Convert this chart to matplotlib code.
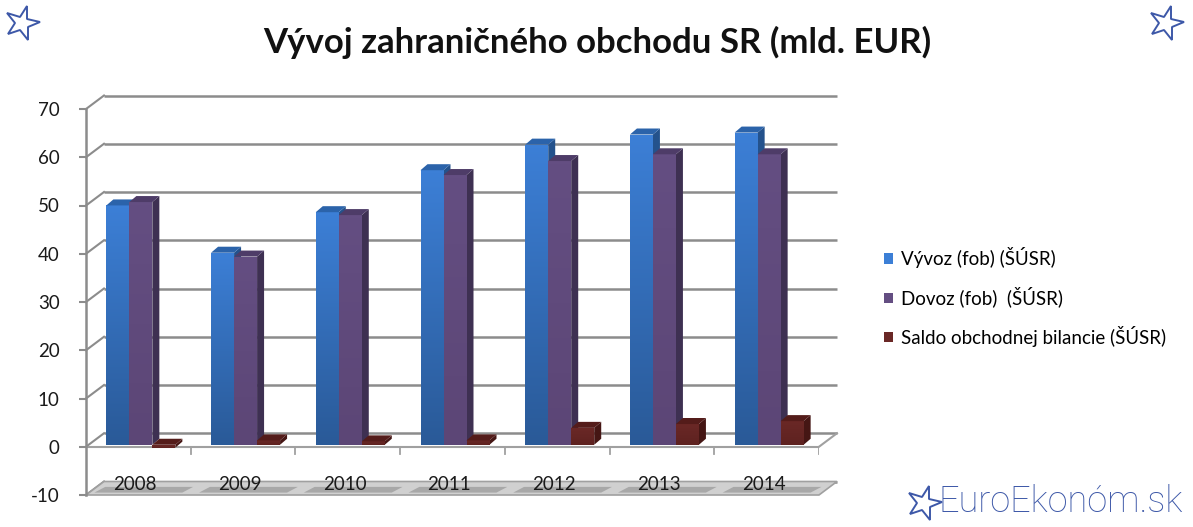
import matplotlib
matplotlib.use("Agg")
import matplotlib.pyplot as plt
import numpy as np
from matplotlib.patches import Polygon, Patch
from matplotlib.colors import LinearSegmentedColormap
from matplotlib.markers import MarkerStyle
from matplotlib.transforms import Affine2D

# ---- data ----
years = ["2008", "2009", "2010", "2011", "2012", "2013", "2014"]
vyvoz = [49.6, 39.8, 48.2, 56.9, 62.2, 64.3, 64.7]
dovoz = [50.3, 39.0, 47.6, 55.9, 58.8, 60.2, 60.2]
saldo = [-0.6, 0.9, 0.7, 0.9, 3.5, 4.3, 4.9]
series_names = ["Vývoz (fob) (ŠÚSR)", "Dovoz (fob)  (ŠÚSR)", "Saldo obchodnej bilancie (ŠÚSR)"]
yticks = [-10, 0, 10, 20, 30, 40, 50, 60, 70]
title = "Vývoj zahraničného obchodu SR (mld. EUR)"

FONT = ["Lato", "DejaVu Sans"]
plt.rcParams['font.family'] = FONT

W, H = 1193, 527
fig = plt.figure(figsize=(W / 100, H / 100), dpi=100)
fig.patch.set_facecolor("white")

ax = fig.add_axes([86 / W, (H - 495) / H, 733 / W, 386 / H])
n = len(years)
ymin, ymax = -10, 70
ax.set_xlim(0, n)
ax.set_ylim(ymin, ymax)

# pixel -> data conversion for depth offsets
px_x = n / 733.0
px_y = (ymax - ymin) / 386.0
wdx, wdy = 18 * px_x, 13.5 * px_y      # wall depth
bdx, bdy = 7 * px_x, 6 * px_y          # bar depth
pdx, pdy = 2.5 * px_x, 2 * px_y        # bar plane offset from front
bw = 23 * px_x                          # bar width

grid_c = "#8C8C8C"
# back wall gridlines and left-wall diagonals
for v in yticks:
    ax.plot([wdx, n + wdx], [v + wdy, v + wdy], color=grid_c, lw=1.8, zorder=1, clip_on=False,
            solid_capstyle="butt")
    ax.plot([0, wdx], [v, v + wdy], color=grid_c, lw=1.5, zorder=1, clip_on=False)

# floor at -10
floor = Polygon([[0, ymin], [n, ymin], [n + wdx, ymin + wdy], [wdx, ymin + wdy]],
                closed=True, facecolor="#D0D0D0", edgecolor="#A0A0A0", lw=1.2, zorder=1.5,
                clip_on=False)
ax.add_patch(floor)
for i in range(n):
    seg = Polygon([[i + 0.08, ymin + 0.5], [i + 0.92, ymin + 0.5],
                   [i + 0.92 + wdx * 0.6, ymin + wdy * 0.6], [i + 0.08 + wdx * 0.6, ymin + wdy * 0.6]],
                  closed=True, facecolor="#A8A8A8", edgecolor="none", zorder=1.6, clip_on=False)
    ax.add_patch(seg)

# front zero line with category ticks
ax.plot([0, n], [0, 0], color="#A0A0A0", lw=1.5, zorder=2)
ax.plot([n, n + wdx], [0, wdy], color="#A0A0A0", lw=1.5, zorder=2, clip_on=False)
for i in range(1, n + 1):
    ax.plot([i, i], [0, -1.6], color="#A0A0A0", lw=1.3, zorder=2)

# bars
styles = [
    dict(top="#3C7FD6", bot="#2A5A98", side="#24528C", cap="#2B63AA"),
    dict(top="#644E82", bot="#5C4676", side="#3E3052", cap="#4E3C68"),
    dict(top="#6A2826", bot="#5E2220", side="#451614", cap="#541C1A"),
]
all_series = [vyvoz, dovoz, saldo]
zc = 3
for i in range(n):
    center = i + 0.5 + pdx
    for k, vals in enumerate(all_series):
        v = vals[i]
        st = styles[k]
        x0 = center + (k - 1.5) * bw
        x1 = x0 + bw
        lo, hi = min(v, 0) + pdy, max(v, 0) + pdy
        # front face with vertical gradient
        bar = ax.bar(x0, hi - lo, bottom=lo, width=bw, align="edge", color=st["bot"], lw=0,
                     zorder=zc)[0]
        cmap = LinearSegmentedColormap.from_list("g", [st["bot"], st["top"]])
        grad = np.linspace(0, 1, 64).reshape(-1, 1)
        im = ax.imshow(grad, cmap=cmap, origin="lower", extent=(x0, x1, lo, hi),
                       aspect="auto", zorder=zc + 0.1, interpolation="bilinear")
        im.set_clip_path(bar)
        # side face
        side = Polygon([[x1, lo], [x1, hi], [x1 + bdx, hi + bdy], [x1 + bdx, lo + bdy]],
                       closed=True, facecolor=st["side"], edgecolor="none", zorder=zc + 0.05)
        ax.add_patch(side)
        # top face
        cap = Polygon([[x0, hi], [x1, hi], [x1 + bdx, hi + bdy], [x0 + bdx, hi + bdy]],
                      closed=True, facecolor=st["cap"], edgecolor="none", zorder=zc + 0.2)
        ax.add_patch(cap)
        zc += 1

ax.set_xlim(0, n)
ax.set_ylim(ymin, ymax)

# axes styling
for s in ["top", "right", "bottom"]:
    ax.spines[s].set_visible(False)
ax.spines["left"].set_color(grid_c)
ax.spines["left"].set_linewidth(1.8)
ax.set_yticks(yticks)
ax.set_yticklabels([str(t) for t in yticks], fontsize=13.5, color="#1A1A1A")
ax.tick_params(axis="y", length=5, width=1.5, color=grid_c, pad=14)
ax.set_xticks([])
ax.patch.set_visible(False)

# category labels on floor
for i, yr in enumerate(years):
    ax.text(i + 0.47, ymin + 2.2, yr, ha="center", va="center", fontsize=13.5, color="#1A1A1A",
            zorder=50)

# title
fig.text(597 / W, 1 - 42 / H, title, ha="center", va="center", fontsize=25, fontweight="bold",
         color="#111111")

# legend
handles = [Patch(facecolor=styles[k]["top"], edgecolor="none") for k in range(3)]
leg = fig.legend(handles, series_names, loc="upper left", bbox_to_anchor=(876 / W, 1 - 240 / H),
                 frameon=False, fontsize=13.5, handlelength=0.5, handleheight=0.5,
                 handletextpad=0.45, labelspacing=0.97, borderaxespad=0)

# decorative stars and watermark
star_c = "#3D58A8"
def star(xp, yp, size, rot):
    m = MarkerStyle("*")
    m._transform = m.get_transform() + Affine2D().rotate_deg(rot)
    fig.add_artist(plt.Line2D([xp / W], [1 - yp / H], marker=m, markersize=size,
                              markerfacecolor="none", markeredgecolor=star_c, markeredgewidth=1.4,
                              transform=fig.transFigure))

star(22, 23, 26, -15)
star(1166, 23, 26, -15)
star(924, 503, 26, -15)
fig.text(1183 / W, 1 - 502 / H, "EuroEkonóm.sk", ha="right", va="center", fontsize=26,
         color=star_c, family=["Roboto", "DejaVu Sans"], fontweight="light")

fig.savefig("out.png", dpi=100, facecolor="white")
